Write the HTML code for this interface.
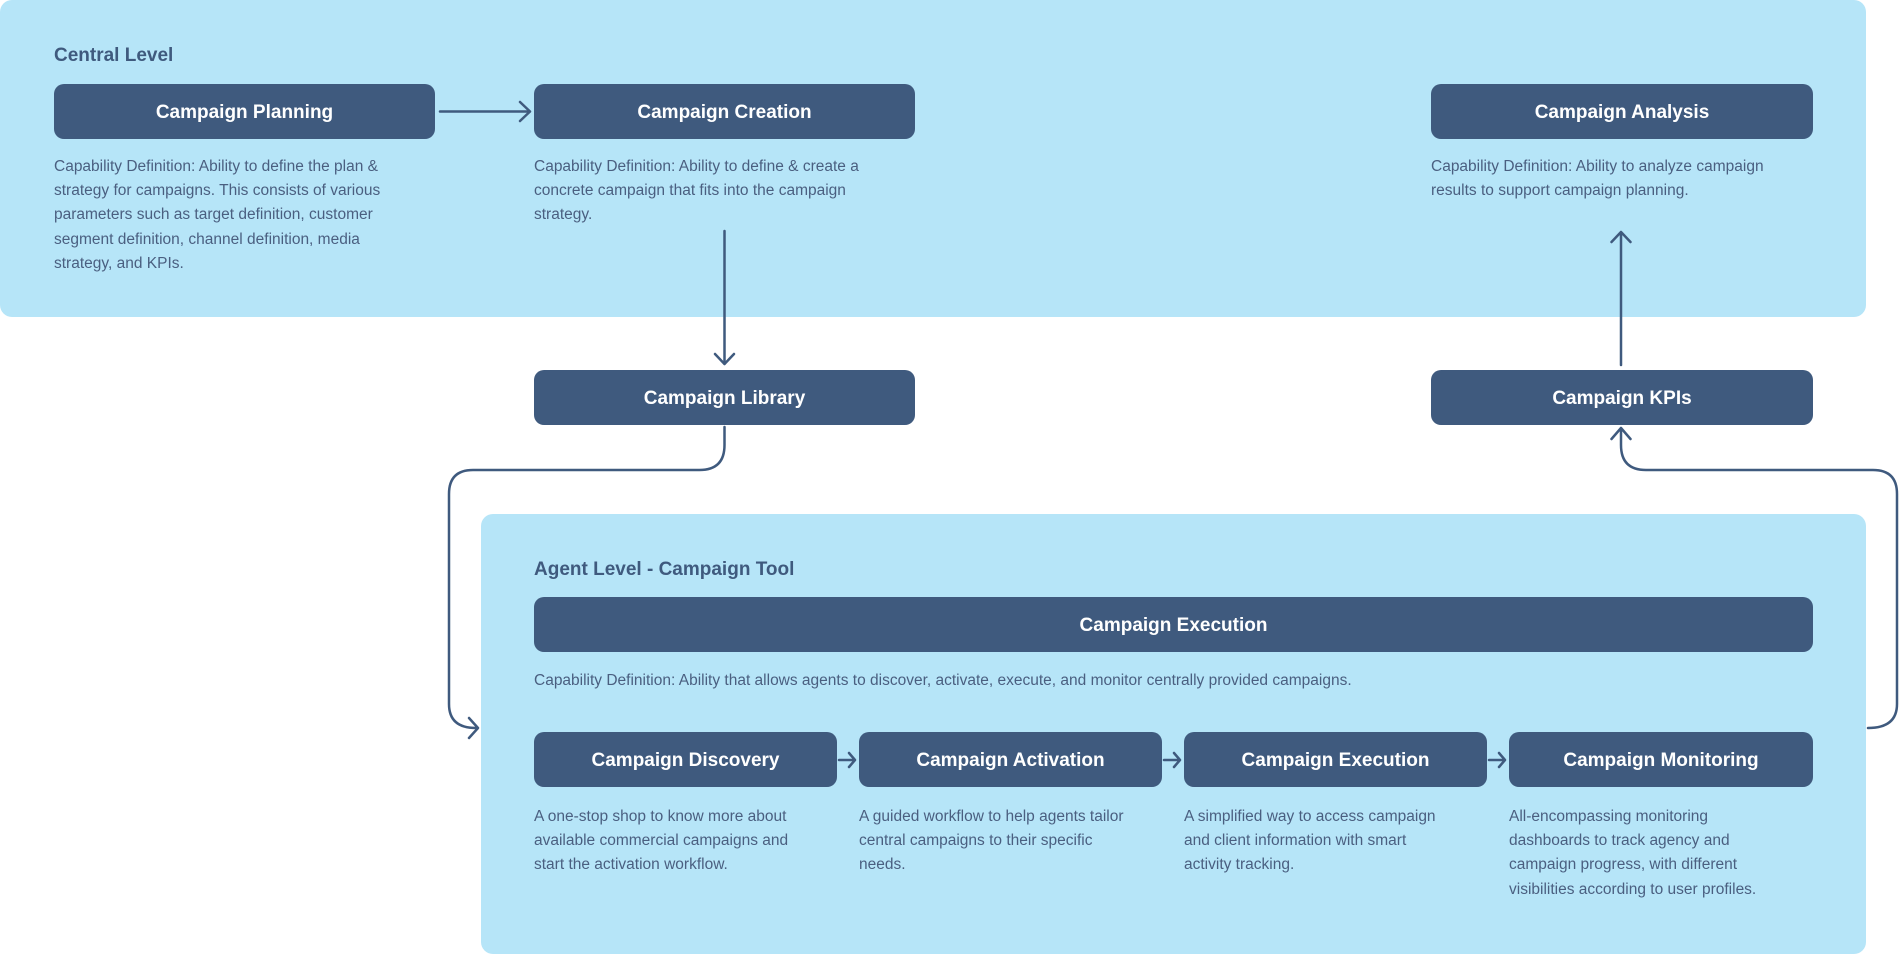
<!DOCTYPE html>
<html><head><meta charset="utf-8"><style>
*{margin:0;padding:0;box-sizing:border-box}
body{width:1900px;height:943px;background:#fff;position:relative;overflow:hidden;font-family:"Liberation Sans",sans-serif;color:#3f5a7e}
.panel{position:absolute;background:#b6e5f8;border-radius:12px}
.box{position:absolute;background:#3f5a7e;color:#fff;border-radius:10px;font-weight:bold;font-size:19px;display:flex;align-items:center;justify-content:center;height:55px;padding-top:2px}
.h{position:absolute;font-weight:bold;font-size:19px;color:#3f5a7e}
.d{position:absolute;font-size:15.5px;line-height:24.2px;color:#4a5f80;white-space:nowrap}
svg{position:absolute;left:0;top:0}
</style></head><body>
<div class="panel" style="left:0;top:0;width:1866px;height:317px"></div>
<div class="panel" style="left:481px;top:514px;width:1385px;height:440px"></div>

<div class="h" style="left:54px;top:45px">Central Level</div>
<div class="box" style="left:54px;top:84px;width:381px">Campaign Planning</div>
<div class="box" style="left:534px;top:84px;width:381px">Campaign Creation</div>
<div class="box" style="left:1431px;top:84px;width:382px">Campaign Analysis</div>
<div class="d" style="left:54px;top:155px">Capability Definition: Ability to define the plan &amp;<br>strategy for campaigns. This consists of various<br>parameters such as target definition, customer<br>segment definition, channel definition, media<br>strategy, and KPIs.</div>
<div class="d" style="left:534px;top:155px">Capability Definition: Ability to define &amp; create a<br>concrete campaign that fits into the campaign<br>strategy.</div>
<div class="d" style="left:1431px;top:155px">Capability Definition: Ability to analyze campaign<br>results to support campaign planning.</div>

<div class="box" style="left:534px;top:370px;width:381px">Campaign Library</div>
<div class="box" style="left:1431px;top:370px;width:382px">Campaign KPIs</div>

<div class="h" style="left:534px;top:559px">Agent Level - Campaign Tool</div>
<div class="box" style="left:534px;top:597px;width:1279px">Campaign Execution</div>
<div class="d" style="left:534px;top:669px">Capability Definition: Ability that allows agents to discover, activate, execute, and monitor centrally provided campaigns.</div>

<div class="box" style="left:534px;top:732px;width:303px">Campaign Discovery</div>
<div class="box" style="left:859px;top:732px;width:303px">Campaign Activation</div>
<div class="box" style="left:1184px;top:732px;width:303px">Campaign Execution</div>
<div class="box" style="left:1509px;top:732px;width:304px">Campaign Monitoring</div>
<div class="d" style="left:534px;top:805px">A one-stop shop to know more about<br>available commercial campaigns and<br>start the activation workflow.</div>
<div class="d" style="left:859px;top:805px">A guided workflow to help agents tailor<br>central campaigns to their specific<br>needs.</div>
<div class="d" style="left:1184px;top:805px">A simplified way to access campaign<br>and client information with smart<br>activity tracking.</div>
<div class="d" style="left:1509px;top:805px">All-encompassing monitoring<br>dashboards to track agency and<br>campaign progress, with different<br>visibilities according to user profiles.</div>

<svg width="1900" height="943" fill="none" stroke="#3f5a7e" stroke-width="2.5" stroke-linecap="round" stroke-linejoin="round">
<path d="M440 111.5H530M520 102l10 9.5-10 9.5"/>
<path d="M724.5 231V364M715 354l9.5 10 9.5-10"/>
<path d="M1621 365V232M1611.5 242l9.5-10 9.5 10"/>
<path d="M724.5 427v18q0 25-25 25H473q-24 0-24 24v210q0 24 27 24M469 718l9 10-9 10"/>
<path d="M1868 728q29 0 29-24V494q0-24-24-24h-227q-25 0-25-25V428M1611.5 439l9.5-11 9.5 11"/>
<path d="M839 760h16M849 753l6 7-6 7"/>
<path d="M1164 760h16M1174 753l6 7-6 7"/>
<path d="M1489 760h16M1499 753l6 7-6 7"/>
</svg>
</body></html>
